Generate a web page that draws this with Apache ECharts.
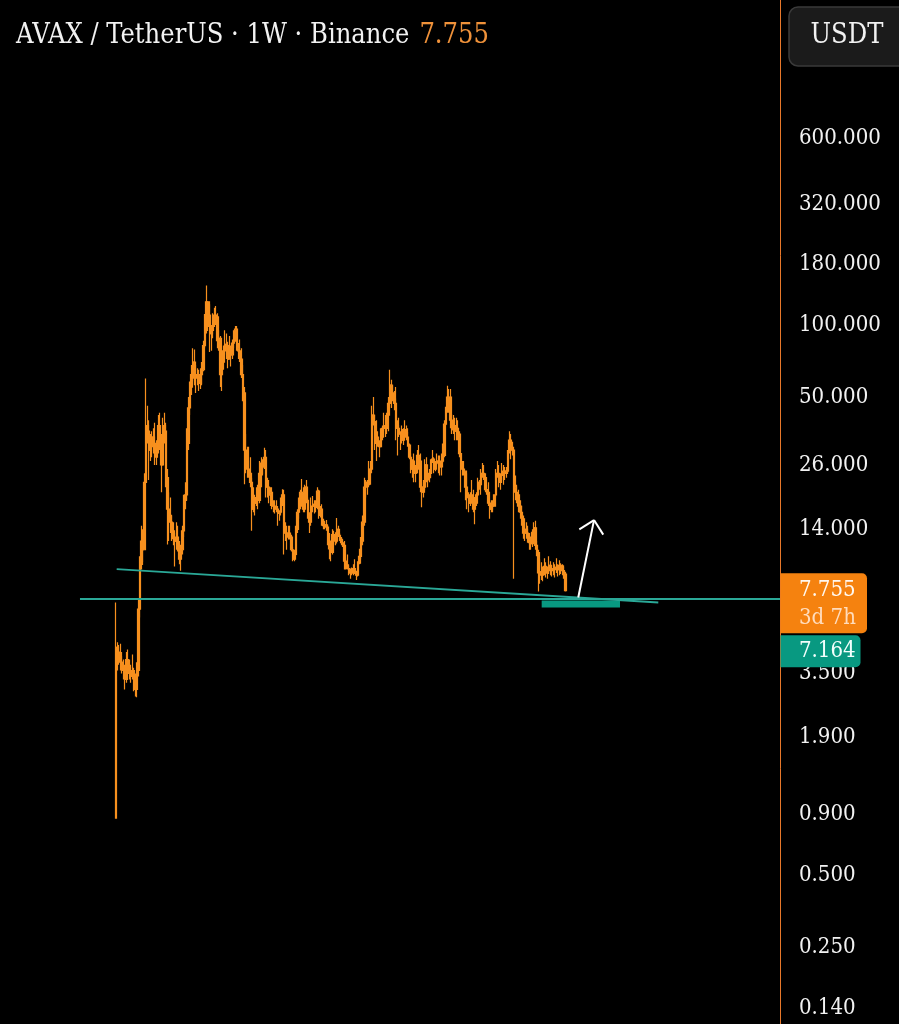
<!DOCTYPE html>
<html><head><meta charset="utf-8">
<script src="https://cdn.jsdelivr.net/npm/echarts@6/dist/echarts.min.js"></script>
<style>html,body{margin:0;padding:0;background:#000;}#c{width:899px;height:1024px;}</style>
</head><body><div id="c"></div>
<script>
// ---- data (weekly AVAX/USDT) ----
const firstWeek = '2020-09-21';
const padLeft = 76, padRight = 141;        // empty weeks left / right of the bars
const firstOpen = 0.87;
const high = [
6.93,4.72,4.6,4.65,4.3,4.0,3.8,4.3,4.4,4.0, 3.8,4.2,3.7,3.5,3.9,7.2,10.8,14.5,14.0,24,
59.8,46,40,35,36,37,39,33,42,43, 35,41,43,39,25,20,19,16,15,13.5,
15,14.5,12.5,12,14.5,19.5,22,37,50,58, 68,80,79,68,66,65,66,70,86,111,
146,125,122,100,112,118,120,112,95,90, 72,82,95,92,85,90,82,87,95,99,
99,84,87,80,68,55,35,31,31,28, 23,21,19.5,21,21.5,27,28,27.5,30.7,30,
23,22.5,21,21,18.5,18.5,18.5,17.5,16.8,19, 20.6,20.5,15,14.5,14.5,14.5,13.3,11.8,11.5,14.5,
17,19,20.5,22.7,21,21.5,22.5,19,16.5,19, 19.3,18.5,18.5,21,20.5,17.5,17.8,15.5,15.2,15.3,
14.6,13.5,12,14,13.8,13.6,15.6,14.5,13.5,13, 12.8,12.5,10.6,11,10,9.6,9.7,10,10.5,9.4,
10.3,11.6,13,16,23,22.5,22.5,27,27,46, 50,42,40,36,33,37,38,43,42,43,
50,65,59,56,53,55,40,41,36,38, 37,40,38,37,32,29,27.5,29,26,30,
31.5,29,22,22.5,27.5,28,23.5,25,27.5,30, 28,27,29,28.5,28.5,29,32,40,45.5,55.7,
54,54,42.5,42,41,41,40,36,29,27, 27,24.5,24,20,20,22.5,20.5,18,20,23,
22.5,25,26.5,26,24,21.5,22,18.5,18.5,18.5, 19.5,25,27,26,24,26.5,26,25.5,25.5,30,
36,35,32.5,31,23.5,21.5,20.5,18.5,17.5,16, 15,15,14.5,13.5,13,14,15,15.2,12.5,11.5,
10.5,10.2,9.8,10.6,10.2,9.8,10.8,10.3,9.9,10.2, 10.0,10.6,10.0,10.4,10.1,10.0,9.9,9.3
];
const low = [
0.87,3.6,3.8,3.6,3.5,3.3,3.0,3.2,3.5,3.3, 3.2,3.3,2.95,2.8,2.78,3.4,6.0,9.5,10.2,11.5,
22,32,22.5,27,28,29,26,26,29,30, 20,26,32,21,12.1,12.5,13.5,12.5,12,9.8,
11.5,11.3,10,9.4,11,13,17,18.5,30,42, 51,58,56,52,56,53,54,56,64,80,
92,98,77,78,88,98,100,80,78,55, 53,65,75,72,66,72,67,72,80,85,
78,72,70,60,48,21.6,24,23,23,21, 13.8,16.5,16,17.5,17,18,21,23.5,25,19,
19,18,17.5,17,16.5,16.3,16.5,14.5,15.2,16, 17.5,11,12.5,11.5,12.7,12.7,11.3,10.3,10.3,10.8,
13.5,15.5,17,19,16.5,16.5,18,15.5,13.5,14.5, 16.5,16.3,16.5,17,15.5,15.7,14.5,14,14,13.8,
12,10.5,10.3,11,12,12,12.2,13,12.5,12, 11.8,9.5,9.5,9.5,9,8.7,9.0,9,9.1,8.6,
8.9,10,10.5,12,14.5,19,19.5,21,21.5,24, 38,30,27,31,28,31,33,36,34,35,
36,45,45,48,44,33,28.5,34,30,32, 31.5,34,33,31,27.5,24,23,22,22,24,
26,20,17.3,19,20.5,22,21,22,23,26.5, 24,24.5,26,24,23.5,23.5,26.5,28,38,43,
43,37,35,35,33,33,33,28,20,23.5, 23.5,18.5,17,16.5,17.5,18.5,16.5,14.7,17.5,19.5,
20.5,19.5,23,22.5,20,19.5,17.5,15.5,16.5,16.5, 17.5,19,23,21,20.5,22.5,21.5,22.5,23,24,
29,27.5,28.5,8.7,18.5,18,16.5,15.5,14.5,12.8, 12.5,12.8,12.3,11.5,11.5,11.8,12.8,11.5,10.8,7.7,
8.3,8.6,8.5,9.0,8.8,8.7,9.1,9.0,8.9,9.0, 8.8,9.2,8.9,9.0,9.1,9.0,8.7,7.7
];
const close = [
4.5,4.3,4.1,3.9,3.7,3.6,3.3,4.0,3.7,3.5, 3.4,3.6,3.2,3.0,3.6,6.5,10.0,12.5,11.5,22,
38,36,30,31,34,32,28,31,38,34, 26,38,36,23,17,16,15,13.8,12.8,12.5,
13,12,10.5,11.5,13.8,18.5,19.5,32,45,55, 62,70,60,62,61,57,62,65,82,95,
125,110,92,95,105,110,108,86,88,62, 70,78,83,82,72,78,75,84,92,96,
80,78,72,62,52,30,27,25,24,22, 17,18.5,18,19,18.5,24,26.5,25.5,28,21,
21,19.5,20,17.5,17.5,17,17,16.3,16.5,18, 19.5,13.5,13.5,13,13.5,13,11.5,10.5,11,14,
16.5,17.5,20,20,17,21,18.5,16.3,15,17.5, 17.8,17.5,17.3,20.2,16,17,15,14.5,14.6,14.3,
12.5,11.6,11.2,13.3,12.8,12.5,14,13.2,12.6,12.3, 12,10.3,9.8,9.6,9.2,9.5,9.2,9.6,9.2,9.0,
10.1,10.8,12.5,15,21,22,21.5,25,25,42, 39.5,32,34,32,31,34,37,38,37,42,
47,56,52,49,47,38,37,35,35,33, 36.5,35.5,34,31.5,28,25,27,24,25,28.5,
27,21,20,21,26,22.5,23,24,27,27.5, 25,26.5,27,26.5,25.5,27,28.5,38.5,45,50,
50,40,36.5,38,36,37,35,29,25,25, 24.5,21,19,18,19.5,19,17,18,19.5,22,
21.5,24,24,23,20.5,20,18,17,17.7,17.5, 19.5,24,24,22,23.5,23.5,24.5,24,24.5,29.5,
33,30,30,21,20,19.5,17.5,16.5,15.5,13.5, 14,13.5,13,12.3,12.2,13.6,14.2,12,11.2,9.2,
9.3,9.0,9.4,9.8,9.2,9.5,9.9,9.4,9.6,9.5, 9.7,9.6,9.5,9.9,9.7,9.4,9.1,7.755
];
const yTicks = [600, 320, 180, 100, 50, 26, 14, 3.5, 1.9, 0.9, 0.5, 0.25, 0.14];
const yMin = 0.12, yMax = 2279;
// annotations: [week index, price]
const supportLevel = 7.164;
const supportLine = [[-23.7, 7.164], [438.5, 7.164]];
const trendLine = [[0.55, 9.55], [358.15, 6.925]];
const zoneBox = [[281.15, 7.05], [332.86, 6.60]];
const arrowShaft = [[305.3, 7.26], [315.7, 15.3]];
const arrowHeadL = [[306.0, 14.0], [315.7, 15.3]];
const arrowHeadR = [[321.8, 13.3], [315.7, 15.3]];
const titleText = 'AVAX / TetherUS · 1W · Binance';
const lastText = '7.755';
const countdown = '3d 7h';

// ---- build ----
const n = high.length;
const slots = padLeft + n + padRight;
const categories = [];
const t0 = new Date(firstWeek + 'T00:00:00Z').getTime();
for (let k = 0; k < slots; k++) {
  categories.push(new Date(t0 + (k - padLeft) * 7 * 86400000).toISOString().slice(0, 10));
}
const rows = [];
for (let i = 0; i < n; i++) {
  const o = i === 0 ? firstOpen : close[i - 1];
  rows.push([padLeft + i, o, close[i], low[i], high[i]]);
}
const ORANGE = '#f7901e', TEAL = '#2aa897', TEAL_BOX = '#089981';
const FONT = '"DejaVu Serif Condensed","DejaVu Serif",serif';
const seg = (p, color, w) => [{coord: p[0], lineStyle: {color: color, width: w, type: 'solid'}}, {coord: p[1]}];

const chart = echarts.init(document.getElementById('c'), null, {renderer: 'canvas'});
chart.setOption({
  backgroundColor: '#000',
  animation: false,
  title: {
    left: 11, top: 17,
    text: '{a|' + titleText + '}  {b|' + lastText + '}',
    textStyle: {rich: {
      a: {color: '#f2f2f2', fontSize: 27, fontWeight: 'normal', fontFamily: FONT},
      b: {color: '#f0923a', fontSize: 27, fontWeight: 'normal', fontFamily: FONT}
    }}
  },
  grid: {left: 0, right: 119, top: 0, bottom: 0, containLabel: false},
  xAxis: [
    {type: 'category', data: categories, show: false, boundaryGap: true},
    {type: 'value', min: -padLeft - 0.5, max: slots - padLeft - 0.5, show: false}
  ],
  yAxis: {
    type: 'log', logBase: 10, position: 'right', min: yMin, max: yMax,
    axisLine: {show: true, onZero: false, lineStyle: {color: '#e8782a', width: 1}},
    axisTick: {show: false},
    splitLine: {show: false},
    axisLabel: {
      customValues: yTicks, margin: 19, color: '#f2f2f2',
      fontSize: 22, fontFamily: FONT,
      formatter: v => Number(v).toFixed(3)
    }
  },
  series: [
    {
      type: 'candlestick', xAxisIndex: 0, yAxisIndex: 0,
      encode: {x: 0, y: [1, 2, 3, 4]},
      data: rows, barWidth: 2,
      itemStyle: {color: ORANGE, color0: ORANGE, borderColor: ORANGE, borderColor0: ORANGE, borderWidth: 1.2}
    },
    {
      type: 'line', xAxisIndex: 1, yAxisIndex: 0, data: [], silent: true,
      markLine: {
        symbol: ['none', 'none'], silent: true, animation: false,
        lineStyle: {type: 'solid'},
        label: {show: false},
        data: [
          seg(supportLine, TEAL, 1.8),
          seg(trendLine, TEAL, 1.8),
          seg(arrowShaft, '#ffffff', 2),
          seg(arrowHeadL, '#ffffff', 2),
          seg(arrowHeadR, '#ffffff', 2)
        ]
      },
      markArea: {
        silent: true,
        itemStyle: {color: TEAL_BOX, opacity: 1},
        data: [[{coord: zoneBox[0]}, {coord: zoneBox[1]}]]
      }
    }
  ]
});

const yLast = chart.convertToPixel({yAxisIndex: 0}, close[n - 1]);
const xAxisPx = 780.5;
chart.setOption({
  graphic: [
    {type: 'rect', z: 100, shape: {x: 789, y: 7, width: 130, height: 59, r: 9},
     style: {fill: '#1b1b1b', stroke: '#3a3a3a', lineWidth: 1.5}},
    {type: 'text', z: 101, x: 847, y: 36,
     style: {text: 'USDT', fill: '#f2f2f2', font: '27px ' + FONT, align: 'center', verticalAlign: 'middle'}},
    {type: 'rect', z: 100, shape: {x: xAxisPx, y: yLast - 17.5, width: 86.5, height: 60, r: [0, 5, 5, 0]},
     style: {fill: '#f5820f'}},
    {type: 'text', z: 101, x: 799, y: yLast,
     style: {text: lastText, fill: '#fff8f0', font: '22px ' + FONT, verticalAlign: 'middle'}},
    {type: 'text', z: 101, x: 799, y: yLast + 27.5,
     style: {text: countdown, fill: '#ffdcbc', font: '22px ' + FONT, verticalAlign: 'middle'}},
    {type: 'rect', z: 100, shape: {x: xAxisPx, y: yLast + 44.5, width: 80, height: 32, r: [0, 5, 5, 0]},
     style: {fill: TEAL_BOX}},
    {type: 'text', z: 101, x: 799, y: yLast + 60.5,
     style: {text: supportLevel.toFixed(3), fill: '#f2fffc', font: '22px ' + FONT, verticalAlign: 'middle'}}
  ]
});
</script></body></html>
